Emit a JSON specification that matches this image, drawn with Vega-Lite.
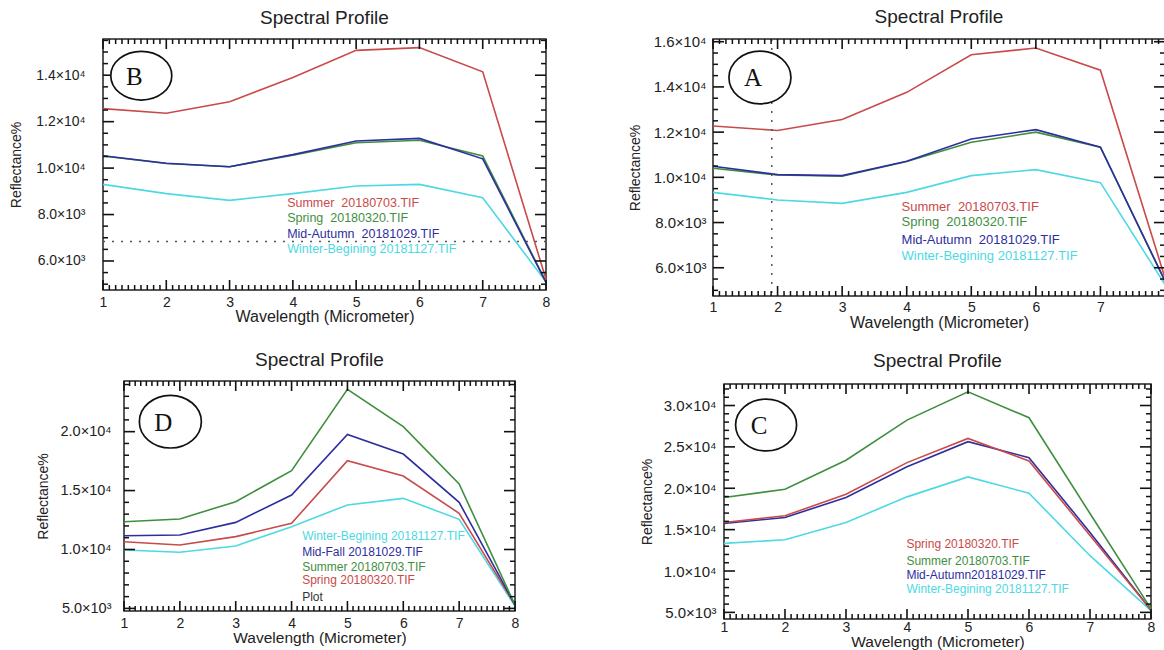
{
 "$schema": "https://vega.github.io/schema/vega-lite/v6.json",
 "padding": {"left": 0, "top": 6, "right": 0, "bottom": 0},
 "autosize": {"type": "pad"},
 "background": "white",
 "config": {
  "view": {"stroke": "#222", "strokeWidth": 1.5},
  "font": "Liberation Sans",
  "axis": {"grid": false, "domain": false, "ticks": false, "tickSize": 0, "labelFont": "Liberation Sans", "labelFontSize": 14, "labelColor": "#222", "titleFont": "Liberation Sans", "titleFontWeight": "normal", "titleColor": "#222", "labelFlush": false, "labelOverlap": false},
  "title": {"font": "Liberation Sans", "fontSize": 19, "fontWeight": "normal", "color": "#222", "offset": 8},
  "text": {"font": "Liberation Sans"}
 },
 "datasets": {
  "xt": [
   {"p":1,"k":"M"},{"p":2,"k":"M"},{"p":3,"k":"M"},{"p":4,"k":"M"},{"p":5,"k":"M"},{"p":6,"k":"M"},{"p":7,"k":"M"},{"p":8,"k":"M"},
   {"p":1.1,"k":"m"},{"p":1.2,"k":"m"},{"p":1.3,"k":"m"},{"p":1.4,"k":"m"},{"p":1.5,"k":"m"},{"p":1.6,"k":"m"},{"p":1.7,"k":"m"},{"p":1.8,"k":"m"},{"p":1.9,"k":"m"},
   {"p":2.1,"k":"m"},{"p":2.2,"k":"m"},{"p":2.3,"k":"m"},{"p":2.4,"k":"m"},{"p":2.5,"k":"m"},{"p":2.6,"k":"m"},{"p":2.7,"k":"m"},{"p":2.8,"k":"m"},{"p":2.9,"k":"m"},
   {"p":3.1,"k":"m"},{"p":3.2,"k":"m"},{"p":3.3,"k":"m"},{"p":3.4,"k":"m"},{"p":3.5,"k":"m"},{"p":3.6,"k":"m"},{"p":3.7,"k":"m"},{"p":3.8,"k":"m"},{"p":3.9,"k":"m"},
   {"p":4.1,"k":"m"},{"p":4.2,"k":"m"},{"p":4.3,"k":"m"},{"p":4.4,"k":"m"},{"p":4.5,"k":"m"},{"p":4.6,"k":"m"},{"p":4.7,"k":"m"},{"p":4.8,"k":"m"},{"p":4.9,"k":"m"},
   {"p":5.1,"k":"m"},{"p":5.2,"k":"m"},{"p":5.3,"k":"m"},{"p":5.4,"k":"m"},{"p":5.5,"k":"m"},{"p":5.6,"k":"m"},{"p":5.7,"k":"m"},{"p":5.8,"k":"m"},{"p":5.9,"k":"m"},
   {"p":6.1,"k":"m"},{"p":6.2,"k":"m"},{"p":6.3,"k":"m"},{"p":6.4,"k":"m"},{"p":6.5,"k":"m"},{"p":6.6,"k":"m"},{"p":6.7,"k":"m"},{"p":6.8,"k":"m"},{"p":6.9,"k":"m"},
   {"p":7.1,"k":"m"},{"p":7.2,"k":"m"},{"p":7.3,"k":"m"},{"p":7.4,"k":"m"},{"p":7.5,"k":"m"},{"p":7.6,"k":"m"},{"p":7.7,"k":"m"},{"p":7.8,"k":"m"},{"p":7.9,"k":"m"}
  ],
  "Bt": [
   {"p":6000,"k":"M"},{"p":8000,"k":"M"},{"p":10000,"k":"M"},{"p":12000,"k":"M"},{"p":14000,"k":"M"},
   {"p":5000,"k":"m"},{"p":5500,"k":"m"},{"p":6500,"k":"m"},{"p":7000,"k":"m"},{"p":7500,"k":"m"},{"p":8500,"k":"m"},{"p":9000,"k":"m"},{"p":9500,"k":"m"},{"p":10500,"k":"m"},{"p":11000,"k":"m"},{"p":11500,"k":"m"},{"p":12500,"k":"m"},{"p":13000,"k":"m"},{"p":13500,"k":"m"},{"p":14500,"k":"m"},{"p":15000,"k":"m"},{"p":15500,"k":"m"}
  ],
  "At": [
   {"p":6000,"k":"M"},{"p":8000,"k":"M"},{"p":10000,"k":"M"},{"p":12000,"k":"M"},{"p":14000,"k":"M"},{"p":16000,"k":"M"},
   {"p":5000,"k":"m"},{"p":5500,"k":"m"},{"p":6500,"k":"m"},{"p":7000,"k":"m"},{"p":7500,"k":"m"},{"p":8500,"k":"m"},{"p":9000,"k":"m"},{"p":9500,"k":"m"},{"p":10500,"k":"m"},{"p":11000,"k":"m"},{"p":11500,"k":"m"},{"p":12500,"k":"m"},{"p":13000,"k":"m"},{"p":13500,"k":"m"},{"p":14500,"k":"m"},{"p":15000,"k":"m"},{"p":15500,"k":"m"}
  ],
  "Dt": [
   {"p":5000,"k":"M"},{"p":10000,"k":"M"},{"p":15000,"k":"M"},{"p":20000,"k":"M"},
   {"p":6000,"k":"m"},{"p":7000,"k":"m"},{"p":8000,"k":"m"},{"p":9000,"k":"m"},{"p":11000,"k":"m"},{"p":12000,"k":"m"},{"p":13000,"k":"m"},{"p":14000,"k":"m"},{"p":16000,"k":"m"},{"p":17000,"k":"m"},{"p":18000,"k":"m"},{"p":19000,"k":"m"},{"p":21000,"k":"m"},{"p":22000,"k":"m"},{"p":23000,"k":"m"},{"p":24000,"k":"m"}
  ],
  "Ct": [
   {"p":5000,"k":"M"},{"p":10000,"k":"M"},{"p":15000,"k":"M"},{"p":20000,"k":"M"},{"p":25000,"k":"M"},{"p":30000,"k":"M"},
   {"p":6000,"k":"m"},{"p":7000,"k":"m"},{"p":8000,"k":"m"},{"p":9000,"k":"m"},{"p":11000,"k":"m"},{"p":12000,"k":"m"},{"p":13000,"k":"m"},{"p":14000,"k":"m"},{"p":16000,"k":"m"},{"p":17000,"k":"m"},{"p":18000,"k":"m"},{"p":19000,"k":"m"},{"p":21000,"k":"m"},{"p":22000,"k":"m"},{"p":23000,"k":"m"},{"p":24000,"k":"m"},{"p":26000,"k":"m"},{"p":27000,"k":"m"},{"p":28000,"k":"m"},{"p":29000,"k":"m"},{"p":31000,"k":"m"},{"p":32000,"k":"m"}
  ],
  "B_lines": [
   {"band":1,"value":9300,"series":"Winter"},{"band":2,"value":8900,"series":"Winter"},{"band":3,"value":8610,"series":"Winter"},{"band":4,"value":8900,"series":"Winter"},{"band":5,"value":9230,"series":"Winter"},{"band":6,"value":9300,"series":"Winter"},{"band":7,"value":8720,"series":"Winter"},{"band":8,"value":5100,"series":"Winter"},
   {"band":1,"value":10520,"series":"Spring"},{"band":2,"value":10200,"series":"Spring"},{"band":3,"value":10060,"series":"Spring"},{"band":4,"value":10560,"series":"Spring"},{"band":5,"value":11090,"series":"Spring"},{"band":6,"value":11200,"series":"Spring"},{"band":7,"value":10520,"series":"Spring"},{"band":8,"value":5100,"series":"Spring"},
   {"band":1,"value":10530,"series":"Autumn"},{"band":2,"value":10210,"series":"Autumn"},{"band":3,"value":10060,"series":"Autumn"},{"band":4,"value":10580,"series":"Autumn"},{"band":5,"value":11170,"series":"Autumn"},{"band":6,"value":11280,"series":"Autumn"},{"band":7,"value":10400,"series":"Autumn"},{"band":8,"value":5080,"series":"Autumn"},
   {"band":1,"value":12560,"series":"Summer"},{"band":2,"value":12360,"series":"Summer"},{"band":3,"value":12860,"series":"Summer"},{"band":4,"value":13900,"series":"Summer"},{"band":5,"value":15070,"series":"Summer"},{"band":6,"value":15190,"series":"Summer"},{"band":7,"value":14150,"series":"Summer"},{"band":8,"value":5210,"series":"Summer"}
  ],
  "B_ref": [{"ref": 6840}],
  "B_note": [{"cx": 1.605, "cy": 13980, "letter": "B"}],
  "B_leg": [
   {"lx":3.91,"ly":8510,"text":"Summer\u00a0 20180703.TIF","series":"Summer"},
   {"lx":3.91,"ly":7863,"text":"Spring\u00a0 20180320.TIF","series":"Spring"},
   {"lx":3.91,"ly":7148,"text":"Mid-Autumn\u00a0 20181029.TIF","series":"Autumn"},
   {"lx":3.91,"ly":6502,"text":"Winter-Begining 20181127.TIF","series":"Winter"}
  ],
  "A_lines": [
   {"band":1,"value":9335,"series":"Winter"},{"band":2,"value":9000,"series":"Winter"},{"band":3,"value":8850,"series":"Winter"},{"band":4,"value":9335,"series":"Winter"},{"band":5,"value":10075,"series":"Winter"},{"band":6,"value":10340,"series":"Winter"},{"band":7,"value":9765,"series":"Winter"},{"band":8,"value":5250,"series":"Winter"},
   {"band":1,"value":10400,"series":"Spring"},{"band":2,"value":10100,"series":"Spring"},{"band":3,"value":10050,"series":"Spring"},{"band":4,"value":10700,"series":"Spring"},{"band":5,"value":11550,"series":"Spring"},{"band":6,"value":12000,"series":"Spring"},{"band":7,"value":11330,"series":"Spring"},{"band":8,"value":5400,"series":"Spring"},
   {"band":1,"value":10490,"series":"Autumn"},{"band":2,"value":10120,"series":"Autumn"},{"band":3,"value":10075,"series":"Autumn"},{"band":4,"value":10710,"series":"Autumn"},{"band":5,"value":11700,"series":"Autumn"},{"band":6,"value":12110,"series":"Autumn"},{"band":7,"value":11330,"series":"Autumn"},{"band":8,"value":5420,"series":"Autumn"},
   {"band":1,"value":12270,"series":"Summer"},{"band":2,"value":12075,"series":"Summer"},{"band":3,"value":12560,"series":"Summer"},{"band":4,"value":13760,"series":"Summer"},{"band":5,"value":15420,"series":"Summer"},{"band":6,"value":15720,"series":"Summer"},{"band":7,"value":14740,"series":"Summer"},{"band":8,"value":5550,"series":"Summer"}
  ],
  "A_ref": [{"ref": 1.91}],
  "A_note": [{"cx": 1.727, "cy": 14420, "letter": "A"}],
  "A_leg": [
   {"lx":3.92,"ly":8693,"text":"Summer\u00a0 20180703.TIF","series":"Summer"},
   {"lx":3.92,"ly":8028,"text":"Spring\u00a0 20180320.TIF","series":"Spring"},
   {"lx":3.92,"ly":7244,"text":"Mid-Autumn\u00a0 20181029.TIF","series":"Autumn"},
   {"lx":3.92,"ly":6522,"text":"Winter-Begining 20181127.TIF","series":"Winter"}
  ],
  "D_lines": [
   {"band":1,"value":9960,"series":"Winter"},{"band":2,"value":9760,"series":"Winter"},{"band":3,"value":10300,"series":"Winter"},{"band":4,"value":11935,"series":"Winter"},{"band":5,"value":13780,"series":"Winter"},{"band":6,"value":14340,"series":"Winter"},{"band":7,"value":12560,"series":"Winter"},{"band":8,"value":5200,"series":"Winter"},
   {"band":1,"value":10660,"series":"Spring"},{"band":2,"value":10380,"series":"Spring"},{"band":3,"value":11090,"series":"Spring"},{"band":4,"value":12220,"series":"Spring"},{"band":5,"value":17540,"series":"Spring"},{"band":6,"value":16240,"series":"Spring"},{"band":7,"value":13070,"series":"Spring"},{"band":8,"value":5300,"series":"Spring"},
   {"band":1,"value":11170,"series":"Autumn"},{"band":2,"value":11230,"series":"Autumn"},{"band":3,"value":12300,"series":"Autumn"},{"band":4,"value":14620,"series":"Autumn"},{"band":5,"value":19770,"series":"Autumn"},{"band":6,"value":18100,"series":"Autumn"},{"band":7,"value":14000,"series":"Autumn"},{"band":8,"value":5300,"series":"Autumn"},
   {"band":1,"value":12350,"series":"Summer"},{"band":2,"value":12590,"series":"Summer"},{"band":3,"value":14060,"series":"Summer"},{"band":4,"value":16690,"series":"Summer"},{"band":5,"value":23590,"series":"Summer"},{"band":6,"value":20430,"series":"Summer"},{"band":7,"value":15560,"series":"Summer"},{"band":8,"value":5290,"series":"Summer"}
  ],
  "D_note": [{"cx": 1.83, "cy": 20850, "letter": "D"}],
  "D_leg": [
   {"lx":4.19,"ly":11145,"text":"Winter-Begining 20181127.TIF","series":"Winter"},
   {"lx":4.19,"ly":9812,"text":"Mid-Fall 20181029.TIF","series":"Autumn"},
   {"lx":4.19,"ly":8540,"text":"Summer 20180703.TIF","series":"Summer"},
   {"lx":4.19,"ly":7410,"text":"Spring 20180320.TIF","series":"Spring"},
   {"lx":4.19,"ly":5990,"text":"Plot","series":"Plot"}
  ],
  "C_lines": [
   {"band":1,"value":13340,"series":"Winter"},{"band":2,"value":13780,"series":"Winter"},{"band":3,"value":15870,"series":"Winter"},{"band":4,"value":18960,"series":"Winter"},{"band":5,"value":21370,"series":"Winter"},{"band":6,"value":19400,"series":"Winter"},{"band":7,"value":11850,"series":"Winter"},{"band":8,"value":5220,"series":"Winter"},
   {"band":1,"value":15750,"series":"Autumn"},{"band":2,"value":16470,"series":"Autumn"},{"band":3,"value":18880,"series":"Autumn"},{"band":4,"value":22610,"series":"Autumn"},{"band":5,"value":25630,"series":"Autumn"},{"band":6,"value":23700,"series":"Autumn"},{"band":7,"value":14660,"series":"Autumn"},{"band":8,"value":5300,"series":"Autumn"},
   {"band":1,"value":15870,"series":"Spring"},{"band":2,"value":16670,"series":"Spring"},{"band":3,"value":19280,"series":"Spring"},{"band":4,"value":23100,"series":"Spring"},{"band":5,"value":26020,"series":"Spring"},{"band":6,"value":23300,"series":"Spring"},{"band":7,"value":14300,"series":"Spring"},{"band":8,"value":5300,"series":"Spring"},
   {"band":1,"value":18880,"series":"Summer"},{"band":2,"value":19880,"series":"Summer"},{"band":3,"value":23380,"series":"Summer"},{"band":4,"value":28240,"series":"Summer"},{"band":5,"value":31650,"series":"Summer"},{"band":6,"value":28520,"series":"Summer"},{"band":7,"value":16950,"series":"Summer"},{"band":8,"value":5420,"series":"Summer"}
  ],
  "C_note": [{"cx": 1.69, "cy": 27650, "letter": "C"}],
  "C_leg": [
   {"lx":3.99,"ly":13250,"text":"Spring 20180320.TIF","series":"Spring"},
   {"lx":3.99,"ly":11250,"text":"Summer 20180703.TIF","series":"Summer"},
   {"lx":3.99,"ly":9563,"text":"Mid-Autumn20181029.TIF","series":"Autumn"},
   {"lx":3.99,"ly":7830,"text":"Winter-Begining 20181127.TIF","series":"Winter"}
  ],
  "empty": []
 },
 "spacing": 75,
 "resolve": {"scale": {"color": "independent"}},
 "hconcat": [
  {
   "spacing": 25,
   "resolve": {"scale": {"color": "independent"}},
   "vconcat": [
    {
     "spacing": 0,
     "hconcat": [
      {"width": 9, "height": 1, "view": {"stroke": null}, "data": {"name": "empty"}, "mark": {"type": "point", "opacity": 0}},
      {
       "width": 443, "height": 251,
       "title": "Spectral Profile",
       "resolve": {"axis": {"x": "independent", "y": "independent"}},
       "layer": [
        {
         "data": {"name": "B_lines"},
         "mark": {"type": "line", "strokeWidth": 1.6},
         "encoding": {
          "x": {"field": "band", "type": "quantitative", "scale": {"domain": [1, 8], "nice": false, "zero": false}, "axis": {"orient": "bottom", "values": [1,2,3,4,5,6,7,8], "format": "d", "labelPadding": 5, "title": "Wavelength (Micrometer)", "titleFontSize": 16, "titlePadding": -1}},
          "y": {"field": "value", "type": "quantitative", "scale": {"domain": [4750, 15560], "nice": false, "zero": false}, "axis": {"orient": "left", "values": [6000,8000,10000,12000,14000], "labelPadding": 18, "labelFontSize": 14, "labelExpr": "datum.value >= 10000 ? format(datum.value/10000, '.1f') + '×10⁴' : format(datum.value/1000, '.1f') + '×10³'", "title": "Reflectance%", "titleFontSize": 14, "titlePadding": 12}},
          "color": {"field": "series", "type": "nominal", "scale": {"domain": ["Summer","Spring","Autumn","Winter"], "range": ["#c94a4a","#3f8f3f","#2e2e9e","#4dd9e3"]}, "legend": null}
         }
        },
        {
         "data": {"name": "B_ref"},
         "mark": {"type": "rule", "color": "#555", "strokeWidth": 1.5, "strokeDash": [2, 7]},
         "encoding": {"y": {"field": "ref", "type": "quantitative", "axis": null}}
        },
        {"data": {"name": "xt"}, "transform": [{"filter": "datum.k == 'M'"}], "mark": {"type": "point", "shape": "M 0 0 L 0 -1", "size": 400, "filled": false, "stroke": "#111", "strokeWidth": 1.6, "opacity": 1}, "encoding": {"x": {"field": "p", "type": "quantitative", "axis": null}, "y": {"datum": 4750, "type": "quantitative", "axis": null}}},
        {"data": {"name": "xt"}, "transform": [{"filter": "datum.k == 'm'"}], "mark": {"type": "point", "shape": "M 0 0 L 0 -1", "size": 100, "filled": false, "stroke": "#111", "strokeWidth": 1.5, "opacity": 1}, "encoding": {"x": {"field": "p", "type": "quantitative", "axis": null}, "y": {"datum": 4750, "type": "quantitative", "axis": null}}},
        {"data": {"name": "xt"}, "transform": [{"filter": "datum.k == 'M'"}], "mark": {"type": "point", "shape": "M 0 0 L 0 1", "size": 400, "filled": false, "stroke": "#111", "strokeWidth": 1.6, "opacity": 1}, "encoding": {"x": {"field": "p", "type": "quantitative", "axis": null}, "y": {"datum": 15560, "type": "quantitative", "axis": null}}},
        {"data": {"name": "xt"}, "transform": [{"filter": "datum.k == 'm'"}], "mark": {"type": "point", "shape": "M 0 0 L 0 1", "size": 100, "filled": false, "stroke": "#111", "strokeWidth": 1.5, "opacity": 1}, "encoding": {"x": {"field": "p", "type": "quantitative", "axis": null}, "y": {"datum": 15560, "type": "quantitative", "axis": null}}},
        {"data": {"name": "Bt"}, "transform": [{"filter": "datum.k == 'M'"}], "mark": {"type": "point", "shape": "M 0 0 L 1 0", "size": 484, "filled": false, "stroke": "#111", "strokeWidth": 1.6, "opacity": 1}, "encoding": {"y": {"field": "p", "type": "quantitative", "axis": null}, "x": {"datum": 1, "type": "quantitative", "axis": null}}},
        {"data": {"name": "Bt"}, "transform": [{"filter": "datum.k == 'm'"}], "mark": {"type": "point", "shape": "M 0 0 L 1 0", "size": 100, "filled": false, "stroke": "#111", "strokeWidth": 1.5, "opacity": 1}, "encoding": {"y": {"field": "p", "type": "quantitative", "axis": null}, "x": {"datum": 1, "type": "quantitative", "axis": null}}},
        {"data": {"name": "Bt"}, "transform": [{"filter": "datum.k == 'M'"}], "mark": {"type": "point", "shape": "M 0 0 L -1 0", "size": 484, "filled": false, "stroke": "#111", "strokeWidth": 1.6, "opacity": 1}, "encoding": {"y": {"field": "p", "type": "quantitative", "axis": null}, "x": {"datum": 8, "type": "quantitative", "axis": null}}},
        {"data": {"name": "Bt"}, "transform": [{"filter": "datum.k == 'm'"}], "mark": {"type": "point", "shape": "M 0 0 L -1 0", "size": 100, "filled": false, "stroke": "#111", "strokeWidth": 1.5, "opacity": 1}, "encoding": {"y": {"field": "p", "type": "quantitative", "axis": null}, "x": {"datum": 8, "type": "quantitative", "axis": null}}},
        {
         "data": {"name": "B_note"},
         "mark": {"type": "point", "shape": "M -1 0 A 1 0.8 0 1 1 1 0 A 1 0.8 0 1 1 -1 0 Z", "size": 3721, "filled": true, "fill": "white", "stroke": "#111", "strokeWidth": 1.7, "opacity": 1},
         "encoding": {"x": {"field": "cx", "type": "quantitative", "axis": null}, "y": {"field": "cy", "type": "quantitative", "axis": null}}
        },
        {
         "data": {"name": "B_note"},
         "mark": {"type": "text", "font": "Liberation Serif", "fontSize": 25, "dx": -7, "dy": 1, "color": "#111", "align": "center", "baseline": "middle"},
         "encoding": {"x": {"field": "cx", "type": "quantitative", "axis": null}, "y": {"field": "cy", "type": "quantitative", "axis": null}, "text": {"field": "letter"}}
        },
        {
         "data": {"name": "B_leg"},
         "mark": {"type": "text", "align": "left", "baseline": "middle", "fontSize": 12.5},
         "encoding": {"x": {"field": "lx", "type": "quantitative", "axis": null}, "y": {"field": "ly", "type": "quantitative", "axis": null}, "text": {"field": "text"}, "color": {"field": "series", "type": "nominal", "legend": null}}
        }
       ]
      }
     ]
    },
    {
     "spacing": 0,
     "hconcat": [
      {"width": 35, "height": 1, "view": {"stroke": null}, "data": {"name": "empty"}, "mark": {"type": "point", "opacity": 0}},
      {
       "width": 391, "height": 230,
       "title": "Spectral Profile",
       "resolve": {"axis": {"x": "independent", "y": "independent"}},
       "layer": [
        {
         "data": {"name": "D_lines"},
         "mark": {"type": "line", "strokeWidth": 1.6},
         "encoding": {
          "x": {"field": "band", "type": "quantitative", "scale": {"domain": [1, 8], "nice": false, "zero": false}, "axis": {"orient": "bottom", "values": [1,2,3,4,5,6,7,8], "format": "d", "labelPadding": 5, "title": "Wavelength (Micrometer)", "titleFontSize": 15.5, "titlePadding": 0}},
          "y": {"field": "value", "type": "quantitative", "scale": {"domain": [4780, 24300], "nice": false, "zero": false}, "axis": {"orient": "left", "values": [5000,10000,15000,20000], "labelPadding": 13, "labelFontSize": 14.5, "labelExpr": "datum.value >= 10000 ? format(datum.value/10000, '.1f') + '×10⁴' : format(datum.value/1000, '.1f') + '×10³'", "title": "Reflectance%", "titleFontSize": 14, "titlePadding": 10}},
          "color": {"field": "series", "type": "nominal", "scale": {"domain": ["Winter","Autumn","Summer","Spring","Plot"], "range": ["#4dd9e3","#2e2e9e","#3f8f3f","#c94a4a","#333333"]}, "legend": null}
         }
        },
        {"data": {"name": "xt"}, "transform": [{"filter": "datum.k == 'M'"}], "mark": {"type": "point", "shape": "M 0 0 L 0 -1", "size": 400, "filled": false, "stroke": "#111", "strokeWidth": 1.6, "opacity": 1}, "encoding": {"x": {"field": "p", "type": "quantitative", "axis": null}, "y": {"datum": 4780, "type": "quantitative", "axis": null}}},
        {"data": {"name": "xt"}, "transform": [{"filter": "datum.k == 'm'"}], "mark": {"type": "point", "shape": "M 0 0 L 0 -1", "size": 100, "filled": false, "stroke": "#111", "strokeWidth": 1.5, "opacity": 1}, "encoding": {"x": {"field": "p", "type": "quantitative", "axis": null}, "y": {"datum": 4780, "type": "quantitative", "axis": null}}},
        {"data": {"name": "xt"}, "transform": [{"filter": "datum.k == 'M'"}], "mark": {"type": "point", "shape": "M 0 0 L 0 1", "size": 400, "filled": false, "stroke": "#111", "strokeWidth": 1.6, "opacity": 1}, "encoding": {"x": {"field": "p", "type": "quantitative", "axis": null}, "y": {"datum": 24300, "type": "quantitative", "axis": null}}},
        {"data": {"name": "xt"}, "transform": [{"filter": "datum.k == 'm'"}], "mark": {"type": "point", "shape": "M 0 0 L 0 1", "size": 100, "filled": false, "stroke": "#111", "strokeWidth": 1.5, "opacity": 1}, "encoding": {"x": {"field": "p", "type": "quantitative", "axis": null}, "y": {"datum": 24300, "type": "quantitative", "axis": null}}},
        {"data": {"name": "Dt"}, "transform": [{"filter": "datum.k == 'M'"}], "mark": {"type": "point", "shape": "M 0 0 L 1 0", "size": 484, "filled": false, "stroke": "#111", "strokeWidth": 1.6, "opacity": 1}, "encoding": {"y": {"field": "p", "type": "quantitative", "axis": null}, "x": {"datum": 1, "type": "quantitative", "axis": null}}},
        {"data": {"name": "Dt"}, "transform": [{"filter": "datum.k == 'm'"}], "mark": {"type": "point", "shape": "M 0 0 L 1 0", "size": 100, "filled": false, "stroke": "#111", "strokeWidth": 1.5, "opacity": 1}, "encoding": {"y": {"field": "p", "type": "quantitative", "axis": null}, "x": {"datum": 1, "type": "quantitative", "axis": null}}},
        {"data": {"name": "Dt"}, "transform": [{"filter": "datum.k == 'M'"}], "mark": {"type": "point", "shape": "M 0 0 L -1 0", "size": 484, "filled": false, "stroke": "#111", "strokeWidth": 1.6, "opacity": 1}, "encoding": {"y": {"field": "p", "type": "quantitative", "axis": null}, "x": {"datum": 8, "type": "quantitative", "axis": null}}},
        {"data": {"name": "Dt"}, "transform": [{"filter": "datum.k == 'm'"}], "mark": {"type": "point", "shape": "M 0 0 L -1 0", "size": 100, "filled": false, "stroke": "#111", "strokeWidth": 1.5, "opacity": 1}, "encoding": {"y": {"field": "p", "type": "quantitative", "axis": null}, "x": {"datum": 8, "type": "quantitative", "axis": null}}},
        {
         "data": {"name": "D_note"},
         "mark": {"type": "point", "shape": "M -1 0 A 1 0.85 0 1 1 1 0 A 1 0.85 0 1 1 -1 0 Z", "size": 3844, "filled": true, "fill": "white", "stroke": "#111", "strokeWidth": 1.7, "opacity": 1},
         "encoding": {"x": {"field": "cx", "type": "quantitative", "axis": null}, "y": {"field": "cy", "type": "quantitative", "axis": null}}
        },
        {
         "data": {"name": "D_note"},
         "mark": {"type": "text", "font": "Liberation Serif", "fontSize": 25, "dx": -7, "dy": 1, "color": "#111", "align": "center", "baseline": "middle"},
         "encoding": {"x": {"field": "cx", "type": "quantitative", "axis": null}, "y": {"field": "cy", "type": "quantitative", "axis": null}, "text": {"field": "letter"}}
        },
        {
         "data": {"name": "D_leg"},
         "mark": {"type": "text", "align": "left", "baseline": "middle", "fontSize": 12},
         "encoding": {"x": {"field": "lx", "type": "quantitative", "axis": null}, "y": {"field": "ly", "type": "quantitative", "axis": null}, "text": {"field": "text"}, "color": {"field": "series", "type": "nominal", "legend": null}}
        }
       ]
      }
     ]
    }
   ]
  },
  {
   "spacing": 20,
   "resolve": {"scale": {"color": "independent"}},
   "vconcat": [
    {
     "spacing": 0,
     "hconcat": [
      {"width": 1, "height": 1, "view": {"stroke": null}, "data": {"name": "empty"}, "mark": {"type": "point", "opacity": 0}},
      {
       "width": 452, "height": 257,
       "title": "Spectral Profile",
       "resolve": {"axis": {"x": "independent", "y": "independent"}},
       "layer": [
        {
         "data": {"name": "A_lines"},
         "mark": {"type": "line", "strokeWidth": 1.6},
         "encoding": {
          "x": {"field": "band", "type": "quantitative", "scale": {"domain": [1, 8], "nice": false, "zero": false}, "axis": {"orient": "bottom", "values": [1,2,3,4,5,6,7], "format": "d", "labelPadding": 4, "title": "Wavelength (Micrometer)", "titleFontSize": 16, "titlePadding": 0}},
          "y": {"field": "value", "type": "quantitative", "scale": {"domain": [4750, 16120], "nice": false, "zero": false}, "axis": {"orient": "left", "values": [6000,8000,10000,12000,14000,16000], "labelPadding": 7, "labelFontSize": 15, "labelExpr": "datum.value >= 10000 ? format(datum.value/10000, '.1f') + '×10⁴' : format(datum.value/1000, '.1f') + '×10³'", "title": "Reflectance%", "titleFontSize": 14, "titlePadding": 11}},
          "color": {"field": "series", "type": "nominal", "scale": {"domain": ["Summer","Spring","Autumn","Winter"], "range": ["#c94a4a","#3f8f3f","#2e2e9e","#4dd9e3"]}, "legend": null}
         }
        },
        {
         "data": {"name": "A_ref"},
         "mark": {"type": "rule", "color": "#555", "strokeWidth": 1.5, "strokeDash": [2, 7]},
         "encoding": {"x": {"field": "ref", "type": "quantitative", "axis": null}}
        },
        {"data": {"name": "xt"}, "transform": [{"filter": "datum.k == 'M'"}], "mark": {"type": "point", "shape": "M 0 0 L 0 -1", "size": 400, "filled": false, "stroke": "#111", "strokeWidth": 1.6, "opacity": 1}, "encoding": {"x": {"field": "p", "type": "quantitative", "axis": null}, "y": {"datum": 4750, "type": "quantitative", "axis": null}}},
        {"data": {"name": "xt"}, "transform": [{"filter": "datum.k == 'm'"}], "mark": {"type": "point", "shape": "M 0 0 L 0 -1", "size": 100, "filled": false, "stroke": "#111", "strokeWidth": 1.5, "opacity": 1}, "encoding": {"x": {"field": "p", "type": "quantitative", "axis": null}, "y": {"datum": 4750, "type": "quantitative", "axis": null}}},
        {"data": {"name": "xt"}, "transform": [{"filter": "datum.k == 'M'"}], "mark": {"type": "point", "shape": "M 0 0 L 0 1", "size": 400, "filled": false, "stroke": "#111", "strokeWidth": 1.6, "opacity": 1}, "encoding": {"x": {"field": "p", "type": "quantitative", "axis": null}, "y": {"datum": 16120, "type": "quantitative", "axis": null}}},
        {"data": {"name": "xt"}, "transform": [{"filter": "datum.k == 'm'"}], "mark": {"type": "point", "shape": "M 0 0 L 0 1", "size": 100, "filled": false, "stroke": "#111", "strokeWidth": 1.5, "opacity": 1}, "encoding": {"x": {"field": "p", "type": "quantitative", "axis": null}, "y": {"datum": 16120, "type": "quantitative", "axis": null}}},
        {"data": {"name": "At"}, "transform": [{"filter": "datum.k == 'M'"}], "mark": {"type": "point", "shape": "M 0 0 L 1 0", "size": 484, "filled": false, "stroke": "#111", "strokeWidth": 1.6, "opacity": 1}, "encoding": {"y": {"field": "p", "type": "quantitative", "axis": null}, "x": {"datum": 1, "type": "quantitative", "axis": null}}},
        {"data": {"name": "At"}, "transform": [{"filter": "datum.k == 'm'"}], "mark": {"type": "point", "shape": "M 0 0 L 1 0", "size": 100, "filled": false, "stroke": "#111", "strokeWidth": 1.5, "opacity": 1}, "encoding": {"y": {"field": "p", "type": "quantitative", "axis": null}, "x": {"datum": 1, "type": "quantitative", "axis": null}}},
        {"data": {"name": "At"}, "transform": [{"filter": "datum.k == 'M'"}], "mark": {"type": "point", "shape": "M 0 0 L -1 0", "size": 484, "filled": false, "stroke": "#111", "strokeWidth": 1.6, "opacity": 1}, "encoding": {"y": {"field": "p", "type": "quantitative", "axis": null}, "x": {"datum": 8, "type": "quantitative", "axis": null}}},
        {"data": {"name": "At"}, "transform": [{"filter": "datum.k == 'm'"}], "mark": {"type": "point", "shape": "M 0 0 L -1 0", "size": 100, "filled": false, "stroke": "#111", "strokeWidth": 1.5, "opacity": 1}, "encoding": {"y": {"field": "p", "type": "quantitative", "axis": null}, "x": {"datum": 8, "type": "quantitative", "axis": null}}},
        {
         "data": {"name": "A_note"},
         "mark": {"type": "point", "shape": "M -1 0 A 1 0.85 0 1 1 1 0 A 1 0.85 0 1 1 -1 0 Z", "size": 3844, "filled": true, "fill": "white", "stroke": "#111", "strokeWidth": 1.7, "opacity": 1},
         "encoding": {"x": {"field": "cx", "type": "quantitative", "axis": null}, "y": {"field": "cy", "type": "quantitative", "axis": null}}
        },
        {
         "data": {"name": "A_note"},
         "mark": {"type": "text", "font": "Liberation Serif", "fontSize": 25, "dx": -7, "dy": 1, "color": "#111", "align": "center", "baseline": "middle"},
         "encoding": {"x": {"field": "cx", "type": "quantitative", "axis": null}, "y": {"field": "cy", "type": "quantitative", "axis": null}, "text": {"field": "letter"}}
        },
        {
         "data": {"name": "A_leg"},
         "mark": {"type": "text", "align": "left", "baseline": "middle", "fontSize": 13},
         "encoding": {"x": {"field": "lx", "type": "quantitative", "axis": null}, "y": {"field": "ly", "type": "quantitative", "axis": null}, "text": {"field": "text"}, "color": {"field": "series", "type": "nominal", "legend": null}}
        }
       ]
      }
     ]
    },
    {
     "spacing": 0,
     "hconcat": [
      {"width": 13, "height": 1, "view": {"stroke": null}, "data": {"name": "empty"}, "mark": {"type": "point", "opacity": 0}},
      {
       "width": 427, "height": 235,
       "title": {"text": "Spectral Profile", "offset": 10},
       "resolve": {"axis": {"x": "independent", "y": "independent"}},
       "layer": [
        {
         "data": {"name": "C_lines"},
         "mark": {"type": "line", "strokeWidth": 1.6},
         "encoding": {
          "x": {"field": "band", "type": "quantitative", "scale": {"domain": [1, 8], "nice": false, "zero": false}, "axis": {"orient": "bottom", "values": [1,2,3,4,5,6,7,8], "format": "d", "labelPadding": 1, "title": "Wavelength (Micrometer)", "titleFontSize": 15.5, "titlePadding": 0}},
          "y": {"field": "value", "type": "quantitative", "scale": {"domain": [4200, 32600], "nice": false, "zero": false}, "axis": {"orient": "left", "values": [5000,10000,15000,20000,25000,30000], "labelPadding": 8, "labelFontSize": 15, "labelExpr": "datum.value >= 10000 ? format(datum.value/10000, '.1f') + '×10⁴' : format(datum.value/1000, '.1f') + '×10³'", "title": "Reflectance%", "titleFontSize": 14, "titlePadding": 9}},
          "color": {"field": "series", "type": "nominal", "scale": {"domain": ["Spring","Summer","Autumn","Winter"], "range": ["#c94a4a","#3f8f3f","#2e2e9e","#4dd9e3"]}, "legend": null}
         }
        },
        {"data": {"name": "xt"}, "transform": [{"filter": "datum.k == 'M'"}], "mark": {"type": "point", "shape": "M 0 0 L 0 -1", "size": 400, "filled": false, "stroke": "#111", "strokeWidth": 1.6, "opacity": 1}, "encoding": {"x": {"field": "p", "type": "quantitative", "axis": null}, "y": {"datum": 4200, "type": "quantitative", "axis": null}}},
        {"data": {"name": "xt"}, "transform": [{"filter": "datum.k == 'm'"}], "mark": {"type": "point", "shape": "M 0 0 L 0 -1", "size": 100, "filled": false, "stroke": "#111", "strokeWidth": 1.5, "opacity": 1}, "encoding": {"x": {"field": "p", "type": "quantitative", "axis": null}, "y": {"datum": 4200, "type": "quantitative", "axis": null}}},
        {"data": {"name": "xt"}, "transform": [{"filter": "datum.k == 'M'"}], "mark": {"type": "point", "shape": "M 0 0 L 0 1", "size": 400, "filled": false, "stroke": "#111", "strokeWidth": 1.6, "opacity": 1}, "encoding": {"x": {"field": "p", "type": "quantitative", "axis": null}, "y": {"datum": 32600, "type": "quantitative", "axis": null}}},
        {"data": {"name": "xt"}, "transform": [{"filter": "datum.k == 'm'"}], "mark": {"type": "point", "shape": "M 0 0 L 0 1", "size": 100, "filled": false, "stroke": "#111", "strokeWidth": 1.5, "opacity": 1}, "encoding": {"x": {"field": "p", "type": "quantitative", "axis": null}, "y": {"datum": 32600, "type": "quantitative", "axis": null}}},
        {"data": {"name": "Ct"}, "transform": [{"filter": "datum.k == 'M'"}], "mark": {"type": "point", "shape": "M 0 0 L 1 0", "size": 484, "filled": false, "stroke": "#111", "strokeWidth": 1.6, "opacity": 1}, "encoding": {"y": {"field": "p", "type": "quantitative", "axis": null}, "x": {"datum": 1, "type": "quantitative", "axis": null}}},
        {"data": {"name": "Ct"}, "transform": [{"filter": "datum.k == 'm'"}], "mark": {"type": "point", "shape": "M 0 0 L 1 0", "size": 100, "filled": false, "stroke": "#111", "strokeWidth": 1.5, "opacity": 1}, "encoding": {"y": {"field": "p", "type": "quantitative", "axis": null}, "x": {"datum": 1, "type": "quantitative", "axis": null}}},
        {"data": {"name": "Ct"}, "transform": [{"filter": "datum.k == 'M'"}], "mark": {"type": "point", "shape": "M 0 0 L -1 0", "size": 484, "filled": false, "stroke": "#111", "strokeWidth": 1.6, "opacity": 1}, "encoding": {"y": {"field": "p", "type": "quantitative", "axis": null}, "x": {"datum": 8, "type": "quantitative", "axis": null}}},
        {"data": {"name": "Ct"}, "transform": [{"filter": "datum.k == 'm'"}], "mark": {"type": "point", "shape": "M 0 0 L -1 0", "size": 100, "filled": false, "stroke": "#111", "strokeWidth": 1.5, "opacity": 1}, "encoding": {"y": {"field": "p", "type": "quantitative", "axis": null}, "x": {"datum": 8, "type": "quantitative", "axis": null}}},
        {
         "data": {"name": "C_note"},
         "mark": {"type": "point", "shape": "M -1 0 A 1 0.85 0 1 1 1 0 A 1 0.85 0 1 1 -1 0 Z", "size": 3721, "filled": true, "fill": "white", "stroke": "#111", "strokeWidth": 1.7, "opacity": 1},
         "encoding": {"x": {"field": "cx", "type": "quantitative", "axis": null}, "y": {"field": "cy", "type": "quantitative", "axis": null}}
        },
        {
         "data": {"name": "C_note"},
         "mark": {"type": "text", "font": "Liberation Serif", "fontSize": 25, "dx": -7, "dy": 1, "color": "#111", "align": "center", "baseline": "middle"},
         "encoding": {"x": {"field": "cx", "type": "quantitative", "axis": null}, "y": {"field": "cy", "type": "quantitative", "axis": null}, "text": {"field": "letter"}}
        },
        {
         "data": {"name": "C_leg"},
         "mark": {"type": "text", "align": "left", "baseline": "middle", "fontSize": 12},
         "encoding": {"x": {"field": "lx", "type": "quantitative", "axis": null}, "y": {"field": "ly", "type": "quantitative", "axis": null}, "text": {"field": "text"}, "color": {"field": "series", "type": "nominal", "legend": null}}
        }
       ]
      }
     ]
    }
   ]
  }
 ]
}
